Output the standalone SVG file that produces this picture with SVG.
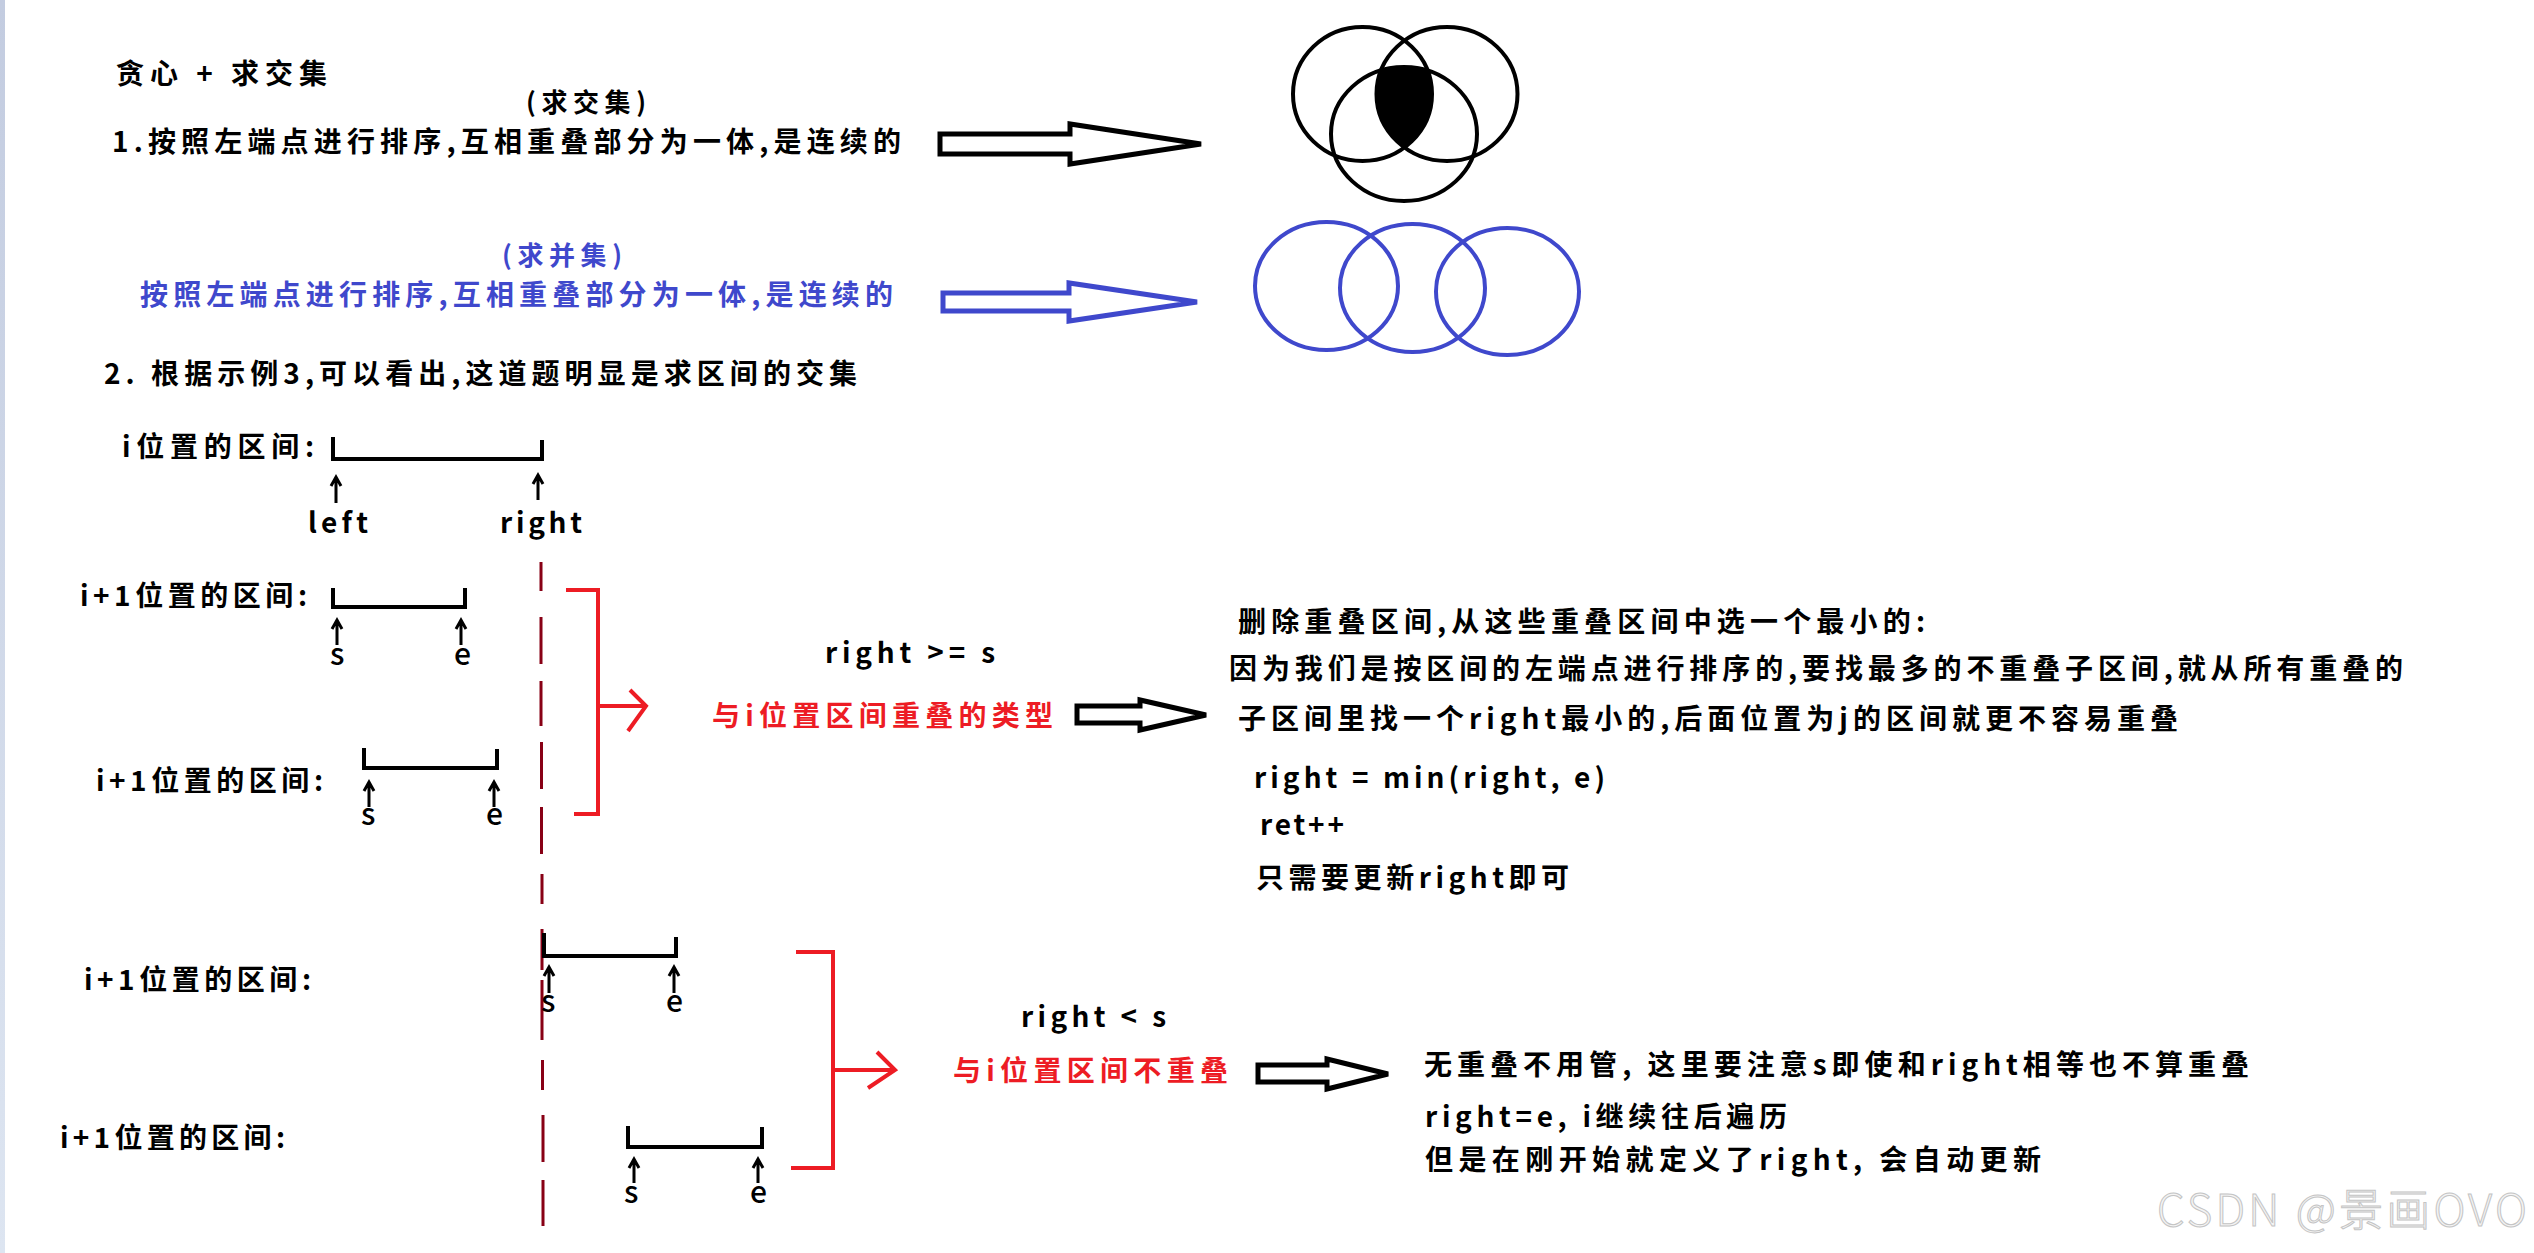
<svg xmlns="http://www.w3.org/2000/svg" width="2534" height="1253" viewBox="0 0 2534 1253">
<style>
.t{font-family:"Noto Sans CJK SC","Noto Sans",sans-serif;font-size:28px;font-weight:700;fill:#000}
.lab{font-size:30px;font-weight:500}
.par{font-size:26px}
.blue{fill:#3F48CC}
.red{fill:#ED1C24}
.br{fill:none;stroke:#000;stroke-width:4}
.up{fill:none;stroke:#000;stroke-width:3}
.hol{fill:#fff;stroke:#000;stroke-width:5;stroke-linejoin:miter}
.rb{fill:none;stroke:#ED1C24;stroke-width:4}
.wm{font-family:"Noto Sans CJK SC","Liberation Sans",sans-serif;font-size:44px;font-weight:300;fill:#f4f4f4;stroke:#c4c4c4;stroke-width:1}
</style>
<defs>
<linearGradient id="strip" x1="0" y1="0" x2="0" y2="1">
<stop offset="0" stop-color="#c3cce0"/>
<stop offset="1" stop-color="#dde5f1"/>
</linearGradient>
<clipPath id="c1"><ellipse cx="1362.5" cy="94" rx="69.5" ry="67"/></clipPath>
<clipPath id="c2"><ellipse cx="1447" cy="94" rx="70.5" ry="67"/></clipPath>
</defs>
<rect width="2534" height="1253" fill="#fff"/>
<rect x="0" y="0" width="5" height="1253" fill="url(#strip)"/>

<g id="title">
<text class="t" x="116" y="84" textLength="211">贪心 + 求交集</text>
</g>

<g id="intersection-note">
<text class="t par" x="526" y="112" textLength="120">(求交集)</text>
<text class="t" x="112" y="152" textLength="789">1.按照左端点进行排序,互相重叠部分为一体,是连续的</text>
<path class="hol" d="M940 134 H1070 V124 L1201 144 L1070 164 V154 H940 Z"/>
</g>

<g id="venn-intersection">
<g clip-path="url(#c1)"><g clip-path="url(#c2)"><ellipse cx="1404" cy="134" rx="73" ry="67" fill="#000"/></g></g>
<g fill="none" stroke="#000" stroke-width="4">
<ellipse cx="1362.5" cy="94" rx="69.5" ry="67"/>
<ellipse cx="1447" cy="94" rx="70.5" ry="67"/>
<ellipse cx="1404" cy="134" rx="73" ry="67"/>
</g>
</g>

<g id="union-note">
<text class="t blue par" x="502" y="265" textLength="120">(求并集)</text>
<text class="t blue" x="140" y="305" textLength="753">按照左端点进行排序,互相重叠部分为一体,是连续的</text>
<path class="hol" style="stroke:#3F48CC" d="M943 293 H1069 V283 L1197 302 L1069 321 V311 H943 Z"/>
</g>

<g id="venn-union" fill="none" stroke="#3F48CC" stroke-width="4">
<ellipse cx="1326.5" cy="286" rx="71.5" ry="64"/>
<ellipse cx="1412.5" cy="288" rx="72.5" ry="64"/>
<ellipse cx="1507.5" cy="291.5" rx="71.5" ry="63.5"/>
</g>

<g id="point2">
<text class="t" x="104" y="384" textLength="753">2. 根据示例3,可以看出,这道题明显是求区间的交集</text>
</g>

<g id="interval-i">
<text class="t" x="122" y="457" textLength="192">i位置的区间:</text>
<path class="br" d="M333 437 V459 H542 V440"/>
<path class="up" d="M336 503 V478 M331 486 L336 477 L341 486"/>
<path class="up" d="M538 500 V476 M533 484 L538 475 L543 484"/>
<text class="t" x="308" y="533" textLength="60">left</text>
<text class="t" x="500" y="533" textLength="82">right</text>
</g>

<g id="connectors">
<path fill="none" stroke="#880015" stroke-width="3" d="M541 562 V591 M541 617 V664 M541 681 V726 M541.5 742 V789 M541.5 807 V854 M542 874 V904 M542 929 V970 M542 980 V1040 M542.5 1060 V1090 M543 1115 V1162 M543 1180 V1226"/>
<path class="rb" d="M566 590 H598 V814 H574"/>
<path class="rb" d="M598 706 H646 M630 690 L646 706 L628 731"/>
<path class="rb" d="M796 952 H833 V1168 H791"/>
<path class="rb" d="M833 1070 H895 M877 1052 L895 1070 L868 1088"/>
</g>

<g id="interval-a">
<text class="t" x="80" y="606" textLength="227">i+1位置的区间:</text>
<path class="br" d="M333 588 V607 H465 V588"/>
<path class="up" d="M337 645 V621 M332 629 L337 620 L342 629"/>
<path class="up" d="M461 645 V621 M456 629 L461 620 L466 629"/>
<text class="t lab" x="330" y="665">s</text>
<text class="t lab" x="454" y="665">e</text>
</g>

<g id="interval-b">
<text class="t" x="96" y="791" textLength="227">i+1位置的区间:</text>
<path class="br" d="M364 748 V768 H497 V749"/>
<path class="up" d="M369 807 V783 M364 791 L369 782 L374 791"/>
<path class="up" d="M494 807 V783 M489 791 L494 782 L499 791"/>
<text class="t lab" x="361" y="825">s</text>
<text class="t lab" x="486" y="825">e</text>
</g>

<g id="overlap-case">
<text class="t" x="825" y="663" textLength="170">right &gt;= s</text>
<text class="t red" x="712" y="726" textLength="341">与i位置区间重叠的类型</text>
<path class="hol" d="M1077 706 H1140 V700 L1206 715 L1140 730 V723 H1077 Z"/>
</g>

<g id="overlap-explain">
<text class="t" x="1238" y="632" textLength="687">删除重叠区间,从这些重叠区间中选一个最小的:</text>
<text class="t" x="1229" y="679" textLength="1174">因为我们是按区间的左端点进行排序的,要找最多的不重叠子区间,就从所有重叠的</text>
<text class="t" x="1238" y="729" textLength="940">子区间里找一个right最小的,后面位置为j的区间就更不容易重叠</text>
<text class="t" x="1254" y="788" textLength="351">right = min(right, e)</text>
<text class="t" x="1260" y="835" textLength="84">ret++</text>
<text class="t" x="1256" y="888" textLength="313">只需要更新right即可</text>
</g>

<g id="interval-c">
<text class="t" x="84" y="990" textLength="227">i+1位置的区间:</text>
<path class="br" d="M544 933 V956 H676 V937"/>
<path class="up" d="M549 993 V968 M544 976 L549 967 L554 976"/>
<path class="up" d="M674 993 V968 M669 976 L674 967 L679 976"/>
<text class="t lab" x="541" y="1012">s</text>
<text class="t lab" x="666" y="1012">e</text>
</g>

<g id="interval-d">
<text class="t" x="60" y="1148" textLength="225">i+1位置的区间:</text>
<path class="br" d="M628 1126 V1147 H762 V1127"/>
<path class="up" d="M634 1183 V1160 M629 1168 L634 1159 L639 1168"/>
<path class="up" d="M758 1183 V1160 M753 1168 L758 1159 L763 1168"/>
<text class="t lab" x="624" y="1203">s</text>
<text class="t lab" x="750" y="1203">e</text>
</g>

<g id="no-overlap-case">
<text class="t" x="1021" y="1027" textLength="145">right &lt; s</text>
<text class="t red" x="953" y="1081" textLength="275">与i位置区间不重叠</text>
<path class="hol" d="M1258 1065 H1327 V1059 L1388 1074 L1327 1089 V1082 H1258 Z"/>
</g>

<g id="no-overlap-explain">
<text class="t" x="1424" y="1075" textLength="825">无重叠不用管, 这里要注意s即使和right相等也不算重叠</text>
<text class="t" x="1425" y="1127" textLength="362">right=e, i继续往后遍历</text>
<text class="t" x="1425" y="1170" textLength="616">但是在刚开始就定义了right, 会自动更新</text>
</g>

<g id="watermark">
<text class="wm" x="2157" y="1226" textLength="370">CSDN @景画OVO</text>
</g>
</svg>
